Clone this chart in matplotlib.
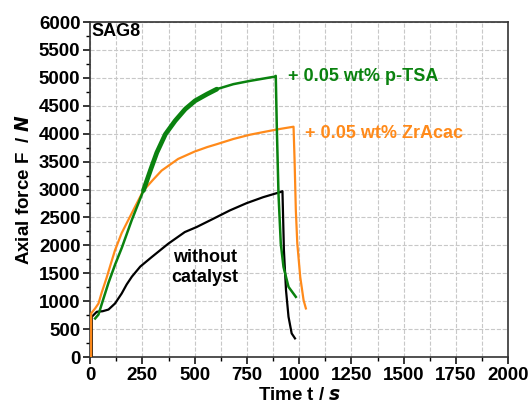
import matplotlib.pyplot as plt
from matplotlib.ticker import MultipleLocator

plt.rcParams['font.family'] = ['Liberation Sans', 'DejaVu Sans']
plt.rcParams['font.weight'] = 'bold'

# without catalyst
t_black = [8, 8, 32, 60, 88, 119, 151, 175, 200, 240, 295, 374, 453, 509, 589, 668, 748, 828, 908, 920,
           927, 937, 949, 964, 980]
f_black = [0, 720, 810, 820, 850, 958, 1137, 1300, 1440, 1620, 1791, 2030, 2238, 2327, 2476, 2625, 2755, 2863, 2952, 2970,
           1910, 1196, 720, 423, 333]

# + 0.05 wt% p-TSA
t_green = [24, 40, 60, 88, 120, 152, 199, 255, 290, 319, 360, 407, 455, 502, 560, 606, 685, 765, 885, 888,
           893, 901, 912, 925, 949, 984]
f_green = [690, 760, 1000, 1330, 1660, 1960, 2450, 2982, 3360, 3660, 3990, 4232, 4440, 4589, 4710, 4798, 4887, 4946, 5023, 5036,
           4113, 2923, 2030, 1613, 1256, 1077]

# + 0.05 wt% ZrAcac
t_orange = [5, 5, 24, 40, 56, 79, 100, 119, 151, 214, 255, 300, 342, 421, 500, 560, 606, 685, 765, 845, 905, 973,
            978, 984, 991, 1005, 1021, 1032]
f_orange = [0, 780, 870, 958, 1160, 1420, 1680, 1911, 2220, 2684, 2982, 3170, 3339, 3548, 3680, 3760, 3812, 3905, 3982, 4041, 4083, 4125,
            3518, 2625, 2030, 1434, 1018, 870]

green = '#0a820f'
orange = '#ff8a1a'

fig = plt.figure(figsize=(5.3, 4.08), dpi=100)
ax = fig.add_axes([0.170, 0.125, 0.789, 0.821])

ax.plot(t_black, f_black, color='black', lw=1.6, zorder=3)
ax.plot(t_orange, f_orange, color=orange, lw=1.6, zorder=3)
ax.plot(t_green, f_green, color=green, lw=1.8, zorder=4)
# noisy thick band of the p-TSA curve
band = [(t, f) for t, f in zip(t_green, f_green) if 255 <= t <= 606]
ax.plot([b[0] for b in band], [b[1] for b in band], color=green, lw=3.4, zorder=4, solid_capstyle='round')

ax.set_xlim(0, 2000)
ax.set_ylim(0, 6000)
ax.xaxis.set_major_locator(MultipleLocator(250))
ax.xaxis.set_minor_locator(MultipleLocator(125))
ax.yaxis.set_major_locator(MultipleLocator(500))
ax.yaxis.set_minor_locator(MultipleLocator(250))

ax.grid(True, which='major', color='#c8c8c8', ls='--', lw=0.8)
ax.xaxis.grid(True, which='minor', color='#c8c8c8', ls='--', lw=0.8)
ax.set_axisbelow(True)

ax.tick_params(which='major', direction='out', length=5, width=1.1, labelsize=13.5, pad=2)
ax.tick_params(which='minor', direction='out', length=3, width=1.0)
for s in ax.spines.values():
    s.set_linewidth(1.2)
    s.set_color('#333333')

ax.set_xlabel('Time t / $\\it{s}$', fontsize=13.5, fontweight='bold', labelpad=2)
ax.set_ylabel('Axial force F  / $\\it{N}$', fontsize=13.5, fontweight='bold', labelpad=4)

ax.text(8, 5980, 'SAG8', fontsize=13, fontweight='bold', ha='left', va='top')
ax.text(945, 5020, '+ 0.05 wt% p-TSA', color=green, fontsize=13, fontweight='bold', ha='left', va='center')
ax.text(1030, 4000, '+ 0.05 wt% ZrAcac', color=orange, fontsize=13, fontweight='bold', ha='left', va='center')
ax.text(550, 1600, 'without\ncatalyst', fontsize=13, fontweight='bold', ha='center', va='center',
        linespacing=1.2)

fig.savefig('out.png', dpi=100)
